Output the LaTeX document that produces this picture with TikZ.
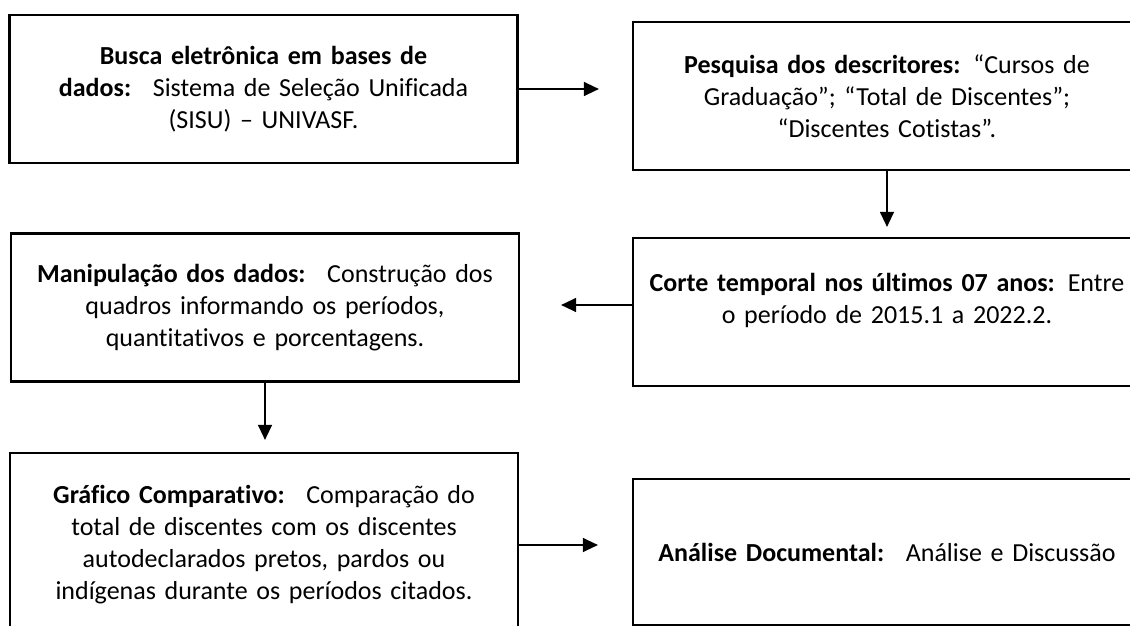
\documentclass[tikz,border=0pt]{standalone}
\usepackage{fontspec}
\setmainfont{Carlito}[Ligatures=NoCommon]
\usetikzlibrary{arrows.meta}

\tikzset{
  caixa/.style={draw, line width=2.2pt, minimum width=508pt, minimum height=148pt,
    inner sep=0pt, text width=480pt, align=center, font=\fontsize{26}{32}\selectfont},
  seta/.style={-{Triangle[length=15pt,width=14pt]}, line width=1.3pt},
}

\begin{document}
\begin{tikzpicture}[x=1pt,y=-1pt]
      \useasboundingbox (0,0) rectangle (1130,626);
      \clip (0,0) rectangle (1130,626);
      \node [caixa] (busca) at (263.5,89) {\textbf{Busca eletrônica em bases de}\\
        \textbf{dados:}~ Sistema de Seleção Unificada\\ (SISU) – UNIVASF.};
      \node [caixa] (pesquisa) at (887,96) {\textbf{Pesquisa dos descritores:} “Cursos de\\
        Graduação”; “Total de Discentes”;\\ “Discentes Cotistas”.};
      \node [caixa] (corte) at (887,312) {\textbf{Corte temporal nos últimos 07 anos:} Entre\\
        o período de 2015.1 a 2022.2.\\[-4.4pt] \mbox{}};
      \node [caixa] (manip) at (265,307.5) {\textbf{Manipulação dos dados:}~ Construção dos\\
        quadros informando os períodos,\\ quantitativos e porcentagens.};
      \node [caixa,minimum height=184pt] (grafico) at (264,545) {\textbf{Gráfico Comparativo:}~ Comparação do\\
        total de discentes com os discentes\\ autodeclarados pretos, pardos ou\\
        indígenas durante os períodos citados.};
      \node [caixa,minimum height=146pt] (analise) at (887,552) {\textbf{Análise Documental:}~ Análise e Discussão};
      \draw [seta,shorten >=33pt] (busca.east) -- (busca.east -| pesquisa.west);
      \draw [seta,shorten >=10pt] (pesquisa.south) -- (corte.north);
      \draw [seta,shorten >=41pt] ([yshift=7pt]corte.west) -- ([yshift=7pt]corte.west -| manip.east);
      \draw [seta,shorten >=12pt] (manip.south) -- (manip.south |- grafico.north);
      \draw [seta,shorten >=34pt] (grafico.east) -- (grafico.east -| analise.west);
    \end{tikzpicture}
\end{document}
